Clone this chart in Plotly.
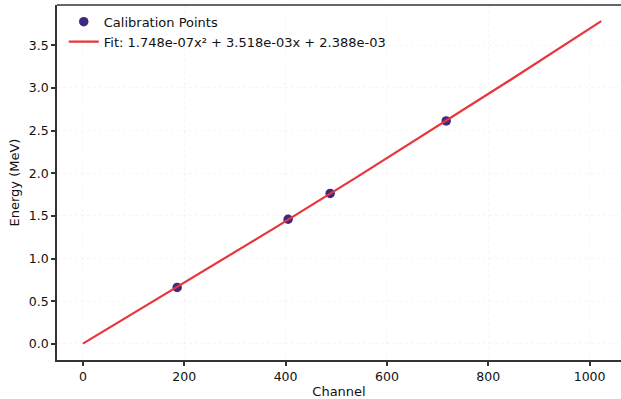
import numpy as np
import plotly.graph_objects as go

channels = [186, 405, 488, 717]
energies = [0.662, 1.461, 1.764, 2.614]
fit_coeffs = [1.748e-07, 3.518e-03, 2.388e-03]  # a, b, c
fit_channels = np.arange(0, 1024)
fit_energies = fit_coeffs[0] * fit_channels**2 + fit_coeffs[1] * fit_channels + fit_coeffs[2]

x_ticks = [0, 200, 400, 600, 800, 1000]
y_ticks = [0.0, 0.5, 1.0, 1.5, 2.0, 2.5, 3.0, 3.5]

font = "DejaVu Sans, Liberation Sans, sans-serif"

fig = go.Figure()
fig.add_trace(go.Scatter(
    x=channels, y=energies, mode="markers", name="Calibration Points",
    marker=dict(color="#3d2a7d", size=9.5, line=dict(width=0)),
))
fig.add_trace(go.Scatter(
    x=fit_channels, y=fit_energies, mode="lines",
    name="Fit: 1.748e-07x² + 3.518e-03x + 2.388e-03",
    line=dict(color="#e8343c", width=2.2),
))

axis_common = dict(
    showline=True, linecolor="#333333", linewidth=1.5,
    ticks="outside", ticklen=4, tickwidth=1.5, tickcolor="#333333",
    tickfont=dict(family=font, size=12.5, color="#111111"),
    showgrid=True, gridcolor="rgba(0,0,0,0.035)", griddash="dot", gridwidth=1,
    zeroline=False,
)

fig.update_layout(
    width=621, height=399,
    margin=dict(l=57, r=0, t=5, b=39),
    paper_bgcolor="white", plot_bgcolor="white",
    font=dict(family=font, size=12.5, color="#111111"),
    showlegend=True,
    legend=dict(x=0.012, y=0.995, xanchor="left", yanchor="top",
                bgcolor="rgba(255,255,255,0)", borderwidth=0,
                font=dict(family=font, size=13, color="#111111"),
                itemwidth=30, tracegroupgap=0),
    xaxis=dict(range=[-51.15, 1062], tickvals=x_ticks,
               title=dict(text="Channel", font=dict(family=font, size=13), standoff=4),
               mirror=False, **axis_common),
    yaxis=dict(range=[-0.189, 3.973], tickvals=y_ticks, tickformat=".1f",
               title=dict(text="Energy (MeV)", font=dict(family=font, size=13), standoff=6),
               **axis_common),
)
# top spine
fig.add_shape(type="line", xref="paper", yref="paper", x0=0, x1=1, y0=1, y1=1,
              line=dict(color="#333333", width=1.5))

fig.write_html("out.html")
